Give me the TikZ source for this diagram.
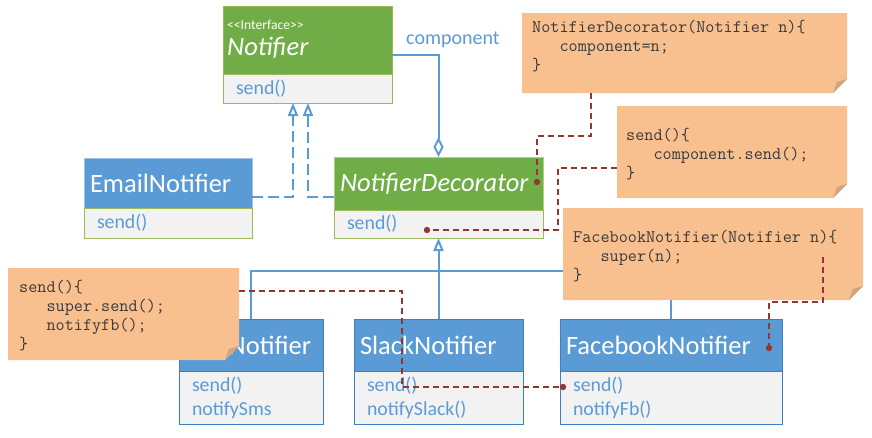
\documentclass[tikz,border=0pt]{standalone}
\usepackage{fontspec}
\setmainfont{Carlito}
\usetikzlibrary{arrows.meta}
\definecolor{umlgreen}{HTML}{70AD47}
\definecolor{umlolive}{HTML}{9BBB59}
\definecolor{umlgreenline}{HTML}{A9D18E}
\definecolor{umlblue}{HTML}{5B9BD5}
\definecolor{umlblueline}{HTML}{3C7FC4}
\definecolor{umllightblue}{HTML}{9DC3E6}
\definecolor{compfill}{HTML}{F2F2F2}
\definecolor{notefill}{HTML}{F8BF8F}
\definecolor{foldc}{HTML}{CDA582}
\definecolor{notetext}{HTML}{3A3A3A}
\definecolor{linkred}{HTML}{963634}
\newcommand\mynote[4]{%
  \fill[notefill] (#1,#2) -- (#3,#2) -- (#3,{#4-14}) -- ({#3-14},#4) -- (#1,#4) -- cycle;
  \fill[foldc] (#3,{#4-14}) -- ({#3-14},#4) -- ({#3-10},{#4-11}) -- cycle;
}
\begin{document}
\begin{tikzpicture}[x=1pt,y=-1pt,
  hdr/.style={anchor=north west, inner ysep=0pt, inner xsep=6pt, outer sep=0pt, line width=1pt,
    text=white, font=\fontsize{26.5}{30}\selectfont, align=left},
  hdrG/.style={hdr, fill=umlgreen, draw=umlgreenline},
  hdrB/.style={hdr, fill=umlblue, draw=umlblueline},
  comp/.style={anchor=north west, inner ysep=0pt, inner xsep=13pt, outer sep=0pt, line width=1pt,
    fill=compfill, text=umlblue, font=\fontsize{19.8}{24}\selectfont, align=left},
  compO/.style={comp, draw=umlolive},
  compB/.style={comp, draw=umlblueline},
  bl/.style={draw=umlblue, line width=2pt},
  realz/.style={bl, dash pattern=on 11pt off 5pt, -{Triangle[open, length=13pt, width=10pt]}},
  inh/.style={bl, -{Triangle[open, length=13pt, width=10pt]}},
  assoc/.style={bl, -{Diamond[open, length=20pt, width=10pt]}},
  redlink/.style={draw=linkred, line width=2pt, dash pattern=on 6pt off 4pt},
  notetxt/.style={anchor=north west, inner sep=0pt, align=left, text=notetext,
    font=\ttfamily\fontsize{17.7}{19}\selectfont},
  dotr/.style={fill=linkred}
]
\useasboundingbox (0,0) rectangle (872,437);

% Notifier (interface)
\node[hdrG, draw=umlolive, minimum width=169pt, minimum height=68pt, text width=157pt] (nh) at (223,6) {};
\node[anchor=west, inner sep=0pt, text=white, font=\fontsize{13.6}{16}\selectfont] (niface) at (227,25) {<{}<Interface>{}>};
\node[anchor=west, inner sep=0pt, text=white, font=\fontsize{26.5}{30}\selectfont\itshape] (ntitle) at (227,48) {Notifier};
\node[compO, minimum width=169pt, minimum height=29pt, text width=143pt] (nc) at (nh.south west) {send()};

% EmailNotifier
\node[hdrB, draw=umllightblue, minimum width=168pt, minimum height=50pt, text width=156pt] (eh) at (84,158) {EmailNotifier};
\node[compO, minimum width=168pt, minimum height=30pt, text width=142pt] (ec) at (eh.south west) {send()};

% NotifierDecorator
\node[hdrG, minimum width=209pt, minimum height=53pt, text width=197pt, font=\fontsize{26.5}{30}\selectfont\itshape] (dh) at (334,157) {NotifierDecorator};
\node[compO, minimum width=209pt, minimum height=28pt, text width=183pt] (dc) at (dh.south west) {send()};

% SmsNotifier
\node[hdrB, minimum width=144pt, minimum height=52pt, text width=132pt] (smh) at (179,319) {SmsNotifier};
\node[compB, minimum width=144pt, minimum height=53pt, text width=118pt] (smc) at (smh.south west) {send()\\notifySms};

% SlackNotifier
\node[hdrB, minimum width=169pt, minimum height=52pt, text width=157pt] (slh) at (354,319) {SlackNotifier};
\node[compB, minimum width=169pt, minimum height=53pt, text width=143pt] (slc) at (slh.south west) {send()\\notifySlack()};

% FacebookNotifier
\node[hdrB, minimum width=222pt, minimum height=52pt, text width=210pt] (fbh) at (560,319) {FacebookNotifier};
\node[compB, minimum width=222pt, minimum height=53pt, text width=196pt] (fbc) at (fbh.south west) {send()\\notifyFb()};

% label
\node[anchor=west, inner sep=0pt, text=umlblue, font=\fontsize{20}{24}\selectfont] (complabel) at (406,40) {component};

% helper coordinates
\coordinate (t1) at (293,103);
\coordinate (t2) at (308,103);
\coordinate (bus) at (0,271);

% blue connectors
\draw[assoc] ([yshift=-15pt]nh.east) -| (dh.north);
\draw[realz] ([yshift=11pt]eh.south east) -| (t1);
\draw[realz] ([yshift=13pt]dh.south west) -| (t2);
\draw[inh] (slh.north) -- (dc.south);
\draw[bl] (smh.north) -- (smh.north |- bus) -- (fbh.north |- bus) -- (fbh.north);

% notes
\mynote{522}{13}{847}{93}
\node[notetxt] (n1t) at (532,18) {\rule{0pt}{14pt}NotifierDecorator(Notifier n)\{\\\phantom{000}component=n;\\\}};
\mynote{617}{106}{847}{198}
\node[notetxt] (n2t) at (626,126) {\rule{0pt}{14pt}send()\{\\\phantom{000}component.send();\\\}};
\mynote{563}{208}{863}{300}
\node[notetxt] (n3t) at (573,228) {\rule{0pt}{14pt}FacebookNotifier(Notifier n)\{\\\phantom{000}super(n);\\\}};
\mynote{8}{268}{239}{360}
\node[notetxt] (n4t) at (19,278) {\rule{0pt}{14pt}send()\{\\\phantom{000}super.send();\\\phantom{000}notifyfb();\\\}};

% note link coordinates
\coordinate (n1b) at (591,93);
\coordinate (d1) at (537,182);
\coordinate (n2w) at (617,168);
\coordinate (k2) at (558,230);
\coordinate (d2) at (427,230);
\coordinate (n3p) at (823,257);
\coordinate (k3) at (769,302);
\coordinate (d3) at (769,348);
\coordinate (n4e) at (239,291);
\coordinate (k4) at (402,387);
\coordinate (d4) at (563,387);

% red links
\draw[redlink] (n1b) -- ++(0,43) -| (d1);
\draw[redlink] (n2w) -| (k2) -- (d2);
\draw[redlink] (n3p) |- (k3) -- (d3);
\draw[redlink] (n4e) -| (k4) -- (d4);
\fill[dotr] (d1) circle[radius=3.2pt];
\fill[dotr] (d2) circle[radius=3.2pt];
\fill[dotr] (d3) circle[radius=3.2pt];
\fill[dotr] (d4) circle[radius=3.2pt];
\end{tikzpicture}
\end{document}
